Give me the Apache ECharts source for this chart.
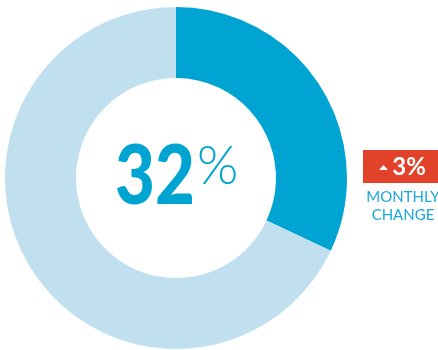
<!DOCTYPE html>
<html>
<head>
<meta charset="utf-8">
<script src="https://cdn.jsdelivr.net/npm/echarts@6/dist/echarts.min.js"></script>
<style>
  html, body { margin: 0; padding: 0; background: #ffffff; }
  #chart { width: 438px; height: 350px; }
</style>
</head>
<body>
<div id="chart"></div>
<script>
// Share of the month reached vs. remaining
const categories = ['Reached', 'Remaining'];
const shareValues = [32, 68];
const monthlyChange = 3;
const changeCaption = ['MONTHLY', 'CHANGE'];

const BLUE = '#00A4D3';
const LIGHT_BLUE = '#C0E0EF';
const RED = '#E2412A';

const chart = echarts.init(document.getElementById('chart'), null, { renderer: 'canvas' });

const cx = 176, cy = 178;

chart.setOption({
  backgroundColor: '#ffffff',
  animation: false,
  series: [{
    type: 'pie',
    center: [cx, cy],
    radius: [100, 171],
    startAngle: 90,
    clockwise: true,
    silent: true,
    label: { show: false },
    labelLine: { show: false },
    itemStyle: { borderWidth: 0 },
    data: categories.map((name, i) => ({
      name: name,
      value: shareValues[i],
      itemStyle: { color: i === 0 ? BLUE : LIGHT_BLUE }
    }))
  }],
  graphic: [
    {
      type: 'text',
      left: 115, top: 137,
      scaleX: 0.84,
      style: {
        text: String(shareValues[0]),
        fill: BLUE,
        font: '900 82px Lato, "Open Sans", sans-serif'
      }
    },
    {
      type: 'text',
      left: 197, top: 140,
      style: {
        text: '%',
        fill: BLUE,
        font: '300 53px Lato, "Open Sans", sans-serif'
      }
    },
    {
      type: 'rect',
      shape: { x: 363, y: 150, width: 80, height: 33 },
      style: { fill: RED }
    },
    {
      type: 'polygon',
      shape: { points: [[379, 170], [388, 170], [383.5, 165]] },
      style: { fill: '#ffffff' }
    },
    {
      type: 'text',
      x: 409, y: 167,
      style: {
        text: monthlyChange + '%',
        fill: '#ffffff',
        font: 'bold 24px Lato, "Open Sans", sans-serif',
        align: 'center',
        verticalAlign: 'middle'
      }
    },
    {
      type: 'text',
      x: 403, y: 197,
      style: {
        text: changeCaption[0],
        fill: '#1BA8D7',
        font: '15px Lato, "Open Sans", sans-serif',
        align: 'center',
        verticalAlign: 'middle'
      }
    },
    {
      type: 'text',
      x: 403, y: 215,
      style: {
        text: changeCaption[1],
        fill: '#1BA8D7',
        font: '15px Lato, "Open Sans", sans-serif',
        align: 'center',
        verticalAlign: 'middle'
      }
    }
  ]
});
</script>
</body>
</html>
